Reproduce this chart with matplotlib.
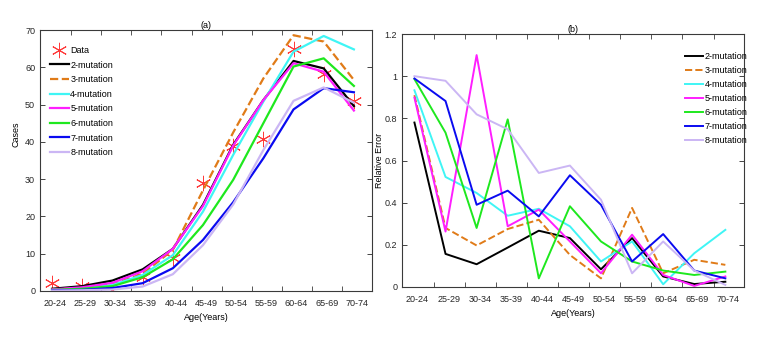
import matplotlib
matplotlib.use("Agg")
import matplotlib.pyplot as plt
import numpy as np

plt.rcParams["font.family"] = ["Liberation Sans Narrow", "Liberation Sans", "DejaVu Sans"]

AGE_GROUPS = ["20-24", "25-29", "30-34", "35-39", "40-44", "45-49",
              "50-54", "55-59", "60-64", "65-69", "70-74"]

# (a) observed cases and model fits
DATA_CASES = [2.1, 1.3, 0.3, 3.8, 8.9, 28.9, 39.0, 40.9, 64.8, 58.2, 51.0]
CASES_2 = [0.6, 1.3, 2.8, 5.8, 11.3, 23.1, 39.2, 51.2, 61.7, 59.7, 49.6]
CASES_3 = [0.4, 0.8, 1.8, 4.6, 11.0, 27.0, 42.5, 57.0, 68.6, 66.9, 56.6]
CASES_4 = [0.3, 0.6, 1.6, 4.3, 9.6, 21.3, 36.5, 50.8, 64.2, 68.4, 64.8]
CASES_5 = [0.4, 1.0, 2.2, 5.3, 11.3, 22.8, 39.0, 51.2, 61.1, 58.8, 48.4]
CASES_6 = [0.3, 0.6, 1.3, 3.7, 8.5, 17.7, 29.8, 45.0, 60.2, 62.4, 55.0]
CASES_7 = [0.2, 0.3, 0.8, 2.1, 6.1, 13.7, 23.8, 35.6, 48.7, 54.4, 53.3]
CASES_8 = [0.1, 0.2, 0.4, 1.2, 4.5, 12.3, 23.2, 37.8, 51.0, 54.6, 50.5]

# (b) relative error of each model
ERR_2 = [0.78, 0.157, 0.108, 0.187, 0.267, 0.232, 0.084, 0.232, 0.050, 0.014, 0.025]
ERR_3 = [0.91, 0.280, 0.197, 0.275, 0.319, 0.152, 0.041, 0.375, 0.065, 0.129, 0.105]
ERR_4 = [0.933, 0.522, 0.446, 0.338, 0.371, 0.288, 0.121, 0.216, 0.013, 0.160, 0.271]
ERR_5 = [0.898, 0.263, 1.10, 0.288, 0.367, 0.216, 0.065, 0.248, 0.057, 0.005, 0.050]
ERR_6 = [0.986, 0.732, 0.280, 0.795, 0.041, 0.383, 0.216, 0.121, 0.078, 0.057, 0.073]
ERR_7 = [0.989, 0.882, 0.390, 0.457, 0.335, 0.530, 0.390, 0.121, 0.251, 0.078, 0.041]
ERR_8 = [1.0, 0.978, 0.819, 0.748, 0.541, 0.576, 0.414, 0.065, 0.216, 0.078, 0.010]

LABELS = ["2-mutation", "3-mutation", "4-mutation", "5-mutation",
          "6-mutation", "7-mutation", "8-mutation"]
COLORS = ["#000000", "#E07B18", "#3FF5F5", "#FF1EFF", "#1EE81E", "#0A0AF0", "#CBB6F4"]
STYLES = ["-", "--", "-", "-", "-", "-", "-"]

AX_COLOR = "#3a3a3a"
FS = 6.5


def style_axes(ax, ylim, yticks, yticklabels):
    x = np.arange(len(AGE_GROUPS))
    ax.set_xlim(-0.4, 10.6)
    ax.set_ylim(*ylim)
    ax.set_xticks(x + 0.1)
    ax.set_xticklabels(AGE_GROUPS)
    ax.set_xticks(x[:-1] + 0.62, minor=True)
    ax.set_yticks(yticks)
    ax.set_yticklabels(yticklabels)
    ax.tick_params(axis="x", which="major", length=0, pad=6, labelsize=FS, colors="#262626")
    ax.tick_params(axis="x", which="minor", direction="in", length=3.5, width=0.6,
                   top=True, bottom=True, color=AX_COLOR)
    ax.tick_params(axis="y", which="major", direction="in", length=3.5, width=0.6,
                   left=True, right=True, labelsize=FS, pad=3.5, colors="#262626")
    for sp in ax.spines.values():
        sp.set_color(AX_COLOR)
        sp.set_linewidth(0.8)
    ax.set_xlabel("Age(Years)", fontsize=FS, labelpad=3)


fig = plt.figure(figsize=(7.71, 3.47), dpi=100)
ax1 = fig.add_axes([40 / 771, 1 - 291 / 347, 332 / 771, 261 / 347])
ax2 = fig.add_axes([402 / 771, 1 - 287 / 347, 342 / 771, 253 / 347])

x = np.arange(len(AGE_GROUPS))

# (a)
ax1.plot(x, DATA_CASES, linestyle="none", marker=(6, 2, 0), markersize=11,
         markeredgewidth=0.7, color="#FF3A3A", label="Data")
for vals, lab, col, ls in zip([CASES_2, CASES_3, CASES_4, CASES_5, CASES_6, CASES_7, CASES_8],
                              LABELS, COLORS, STYLES):
    ax1.plot(x, vals, color=col, linestyle=ls, linewidth=1.6, label=lab)
style_axes(ax1, (0, 70), range(0, 71, 10), [str(v) for v in range(0, 71, 10)])
ax1.set_title("(a)", fontsize=FS, pad=1.5)
ax1.set_ylabel("Cases", fontsize=FS)
ax1.yaxis.set_label_coords(-0.058, 0.6)
ax1.legend(loc="upper left", bbox_to_anchor=(50 / 771, 1 - 46 / 347),
           bbox_transform=fig.transFigure, frameon=False, fontsize=FS,
           borderpad=0, borderaxespad=0, labelspacing=0.62, handlelength=2.1,
           handletextpad=0.15)

# (b)
for vals, lab, col, ls in zip([ERR_2, ERR_3, ERR_4, ERR_5, ERR_6, ERR_7, ERR_8],
                              LABELS, COLORS, STYLES):
    ax2.plot(x, vals, color=col, linestyle=ls, linewidth=1.4, label=lab)
yt = [0, 0.2, 0.4, 0.6, 0.8, 1.0, 1.2]
style_axes(ax2, (0, 1.2), yt, ["0", "0.2", "0.4", "0.6", "0.8", "1", "1.2"])
ax2.set_title("(b)", fontsize=FS, pad=1.5)
ax2.set_ylabel("Relative Error", fontsize=FS)
ax2.yaxis.set_label_coords(-0.052, 0.5)
ax2.legend(loc="upper left", bbox_to_anchor=(685 / 771, 1 - 52 / 347),
           bbox_transform=fig.transFigure, frameon=False, fontsize=FS,
           borderpad=0, borderaxespad=0, labelspacing=0.55, handlelength=2.0,
           handletextpad=0.15)

fig.savefig("out.png", dpi=100)
